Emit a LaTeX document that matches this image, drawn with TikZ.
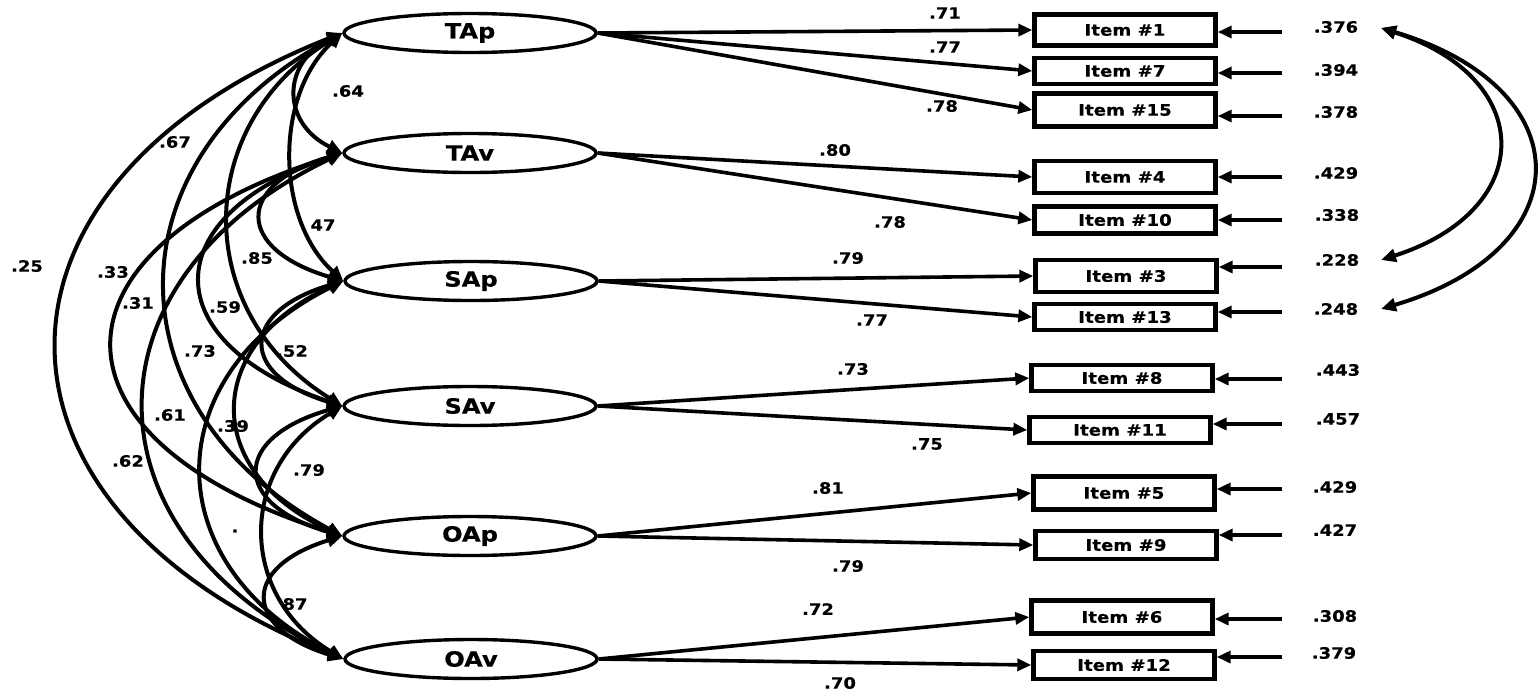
\documentclass[tikz,border=0pt]{standalone}
\usepackage{fontspec}
\newfontfamily\labfont{DejaVu Sans}[FakeStretch=1.15, BoldFeatures={FakeBold=0.5}]
\usetikzlibrary{shapes.geometric,arrows.meta}
\tikzset{
  lat/.style={draw, ellipse, line width=1.7pt, minimum width=126pt, minimum height=19.5pt, inner sep=0pt,
    font=\labfont\bfseries\fontsize{10.5}{12}\selectfont},
  item/.style={draw, rectangle, line width=2.2pt, minimum width=90.5pt, inner sep=0pt,
    font=\labfont\bfseries\fontsize{7.9}{9}\selectfont},
  num/.style={inner sep=0pt, font=\labfont\bfseries\fontsize{7.8}{9}\selectfont},
  load/.style={-{Triangle[length=7pt,width=6pt]}, line width=1.8pt},
  corr/.style={{Triangle[length=7.5pt,width=6.5pt]}-{Triangle[length=7.5pt,width=6.5pt]}, line width=2pt},
}
\newcommand\corrarc[4]{\draw[corr] (#1.west) .. controls +(-#3,#4) and +(-#3,-#4) .. (#2.west);}
\begin{document}
\begin{tikzpicture}[x=0.5pt,y=-0.5pt]
\useasboundingbox (0,0) rectangle (1540,691);
% latent factors
\node[lat] (TAp) at (470,33) {TAp};
\node[lat] (TAv) at (470,153) {TAv};
\node[lat] (SAp) at (471,281) {SAp};
\node[lat] (SAv) at (470,406) {SAv};
\node[lat] (OAp) at (470,536) {OAp};
\node[lat] (OAv) at (471,659) {OAv};
% items
\node[item, minimum height=15.5pt] (i1) at (1125,30) {Item \#1};
\node[item, minimum height=13pt] (i7) at (1125,71) {Item \#7};
\node[item, minimum height=16.5pt] (i15) at (1125,110) {Item \#15};
\node[item, minimum height=16pt] (i4) at (1125,177) {Item \#4};
\node[item, minimum height=13.5pt] (i10) at (1125,220) {Item \#10};
\node[item, minimum height=16pt] (i3) at (1126,276) {Item \#3};
\node[item, minimum height=13pt] (i13) at (1125,317) {Item \#13};
\node[item, minimum height=13pt] (i8) at (1122,378) {Item \#8};
\node[item, minimum height=13pt] (i11) at (1120,430) {Item \#11};
\node[item, minimum height=16.5pt] (i5) at (1124,493) {Item \#5};
\node[item, minimum height=14pt] (i9) at (1126,545) {Item \#9};
\node[item, minimum height=16.5pt] (i6) at (1122,617) {Item \#6};
\node[item, minimum height=14pt] (i12) at (1124,665) {Item \#12};
% loadings
\draw[load] (TAp.east) -- (i1.west);
\draw[load] (TAp.east) -- (i7.west);
\draw[load] (TAp.east) -- (i15.west);
\draw[load] (TAv.east) -- (i4.west);
\draw[load] (TAv.east) -- (i10.west);
\draw[load] (SAp.east) -- (i3.west);
\draw[load] (SAp.east) -- (i13.west);
\draw[load] (SAv.east) -- (i8.west);
\draw[load] (SAv.east) -- (i11.west);
\draw[load] (OAp.east) -- (i5.west);
\draw[load] (OAp.east) -- (i9.west);
\draw[load] (OAv.east) -- (i6.west);
\draw[load] (OAv.east) -- (i12.west);
% loading labels
\node[num] (l1) at (945,13) {.71};
\node[num] (l7) at (945,47) {.77};
\node[num] (l15) at (942,106) {.78};
\node[num] (l4) at (835,150) {.80};
\node[num] (l10) at (890,222) {.78};
\node[num] (l3) at (848,258) {.79};
\node[num] (l13) at (872,320) {.77};
\node[num] (l8) at (853,369) {.73};
\node[num] (l11) at (927,444) {.75};
\node[num] (l5) at (828,488) {.81};
\node[num] (l9) at (848,566) {.79};
\node[num] (l6) at (818,609) {.72};
\node[num] (l12) at (840,683) {.70};
% error terms
\foreach \n/\y in {1/32,7/73,15/116,4/177,10/220,3/267,13/312,8/379,11/424,5/489,9/535,6/619,12/657}{
  \coordinate (e\n) at (1282,\y);
  \draw[load] (e\n) -- (e\n -| i\n.east);
}
\node[num] (r1) at (1336,27) {.376};
\node[num] (r7) at (1336,70) {.394};
\node[num] (r15) at (1336,112) {.378};
\node[num] (r4) at (1336,173) {.429};
\node[num] (r10) at (1337,215) {.338};
\node[num] (r3) at (1337,260) {.228};
\node[num] (r13) at (1336,309) {.248};
\node[num] (r8) at (1338,370) {.443};
\node[num] (r11) at (1338,419) {.457};
\node[num] (r5) at (1335,487) {.429};
\node[num] (r9) at (1335,530) {.427};
\node[num] (r6) at (1335,616) {.308};
\node[num] (r12) at (1334,653) {.379};
% correlated errors
\coordinate (c1) at (1381,28);
\coordinate (c3) at (1381,260);
\coordinate (c13) at (1381,309);
\draw[corr] (c1) .. controls +(156,50) and +(156,-50) .. (c3);
\draw[corr] (c1) .. controls +(202,60) and +(202,-60) .. (c13);
% factor correlations
\corrarc{TAp}{TAv}{61}{30}
\corrarc{TAp}{SAp}{68}{62}
\corrarc{TAp}{SAv}{151}{93}
\corrarc{TAp}{OAp}{235}{126}
\corrarc{TAp}{OAv}{380}{150}
\corrarc{TAv}{SAp}{108}{32}
\corrarc{TAv}{SAv}{188}{63}
\corrarc{TAv}{OAp}{305}{96}
\corrarc{TAv}{OAv}{264}{126}
\corrarc{SAp}{SAv}{104}{31}
\corrarc{SAp}{OAp}{141}{64}
\corrarc{SAp}{OAv}{188}{94}
\corrarc{SAv}{OAp}{111}{32}
\corrarc{SAv}{OAv}{105}{63}
\corrarc{OAp}{OAv}{101}{31}
% correlation labels
\node[num] (k1) at (348,91) {.64};
\node[num] (k2) at (175,142) {.67};
\node[num] (k3) at (323,225) {47};
\node[num] (k4) at (27,266) {.25};
\node[num] (k5) at (257,258) {.85};
\node[num] (k6) at (113,272) {.33};
\node[num] (k7) at (138,303) {.31};
\node[num] (k8) at (225,307) {.59};
\node[num] (k9) at (200,351) {.73};
\node[num] (k10) at (292,351) {.52};
\node[num] (k11) at (170,415) {.61};
\node[num] (k12) at (233,426) {.39};
\node[num] (k13) at (128,461) {.62};
\node[num] (k14) at (309,470) {.79};
\node[num] (k15) at (235,531) {.};
\node[num] (k16) at (295,604) {87};
\end{tikzpicture}
\end{document}
